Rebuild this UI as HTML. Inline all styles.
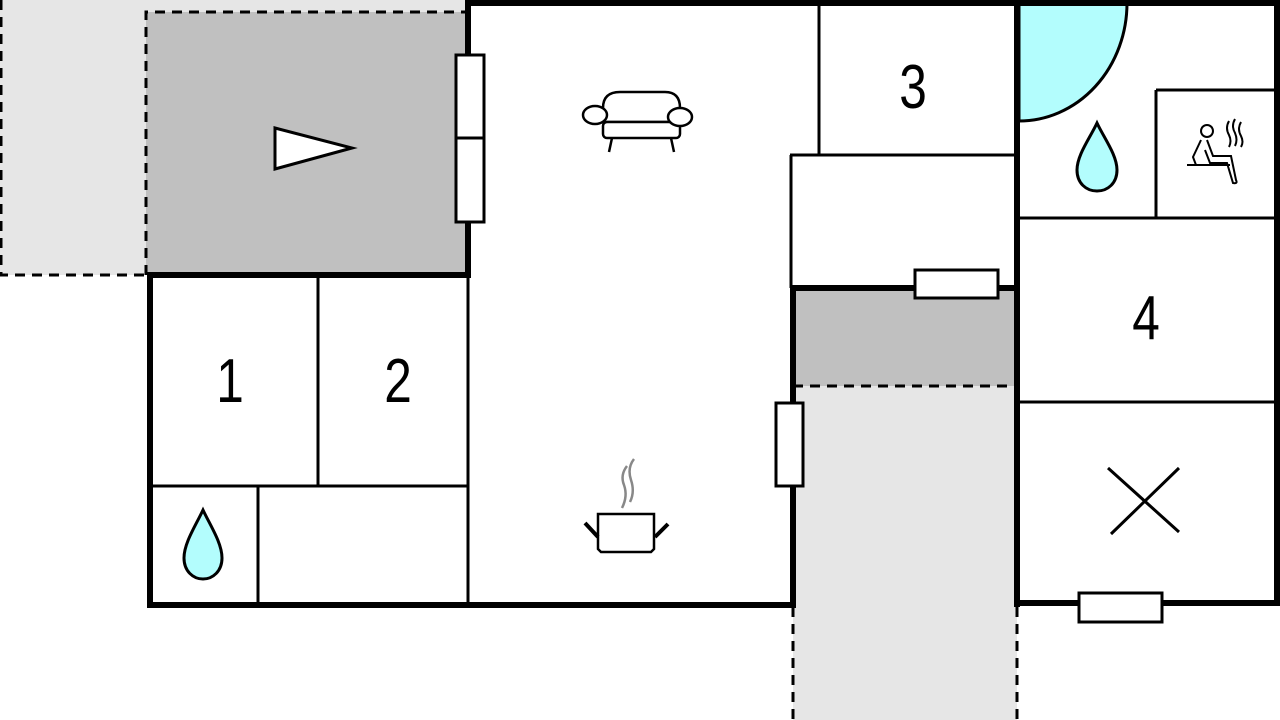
<!DOCTYPE html>
<html><head><style>html,body{margin:0;padding:0;background:#fff;width:1280px;height:720px;overflow:hidden}</style></head>
<body>
<svg width="1280" height="720" viewBox="0 0 1280 720" xmlns="http://www.w3.org/2000/svg" font-family="Liberation Sans, sans-serif">
<rect x="0" y="0" width="468" height="275" fill="#e6e6e6"/>
<rect x="146" y="12" width="322" height="263" fill="#c0c0c0"/>
<rect x="793" y="288" width="224" height="98" fill="#c0c0c0"/>
<rect x="793" y="386" width="224" height="334" fill="#e6e6e6"/>
<path d="M1019 3 L1127 3 A108 118 0 0 1 1019 121 Z" fill="#b3fdfd" stroke="#000" stroke-width="3"/>
<g stroke="#000" stroke-width="3" fill="none" stroke-dasharray="10,7">
<path d="M1 0 V275 H146"/>
<path d="M146 275 V12 H468"/>
<path d="M793 386 H1017"/>
<path d="M793 607 V720 M1017 607 V720"/>
</g>
<g stroke="#000" stroke-width="3" fill="none">
<path d="M318 277 V486 M150 486 H468 M258 486 V605 M468 275 V605"/>
<path d="M819 0 V155 M790 155 H1017 M791 155 V288"/>
<path d="M1156 90 V218 M1156 90 H1277 M1017 218 H1277 M1017 402 H1277"/>
</g>
<g stroke="#000" stroke-width="6" fill="none">
<path d="M468 3 H1280"/>
<path d="M468 0 V278"/>
<path d="M147 275 H471"/>
<path d="M150 275 V608"/>
<path d="M147 605 H796"/>
<path d="M793 286 V607"/>
<path d="M790 288 H1020"/>
<path d="M1017 0 V607"/>
<path d="M1277 0 V606"/>
<path d="M1014 603 H1280"/>
</g>
<g fill="#fff" stroke="#000" stroke-width="3">
<rect x="456" y="55" width="28" height="167"/>
<path d="M456 138 H484"/>
<rect x="915" y="270" width="83" height="28"/>
<rect x="776" y="403" width="27" height="83"/>
<rect x="1079" y="593" width="83" height="29"/>
<polygon points="275,128 352,148 275,169"/>
</g>
<g font-size="62" text-anchor="middle" fill="#000">
<text transform="translate(230 402) scale(0.8 1)">1</text>
<text transform="translate(398 402) scale(0.8 1)">2</text>
<text transform="translate(913 108) scale(0.8 1)">3</text>
<text transform="translate(1146 339) scale(0.8 1)">4</text>
</g>
<g fill="#b3fdfd" stroke="#000" stroke-width="3">
<path d="M1097 123 C1090 138 1077 155 1077 170 C1077 183 1086 191 1097 191 C1108 191 1117 183 1117 170 C1117 155 1104 138 1097 123 Z"/>
<path d="M203 510 C196 525 184 543 184 558 C184 571 193 579 203 579 C213 579 222 571 222 558 C222 543 210 525 203 510 Z"/>
</g>
<g stroke="#000" stroke-width="3">
<path d="M1108 468 L1179 532 M1111 534 L1179 468"/>
</g>
<g stroke="#000" stroke-width="2.5" fill="#fff">
<path d="M603 108 Q603 92 620 92 H665 Q680 92 680 108 V122 H603 Z"/>
<rect x="603" y="122" width="77" height="16" rx="4"/>
<ellipse cx="595" cy="115" rx="12" ry="9"/>
<ellipse cx="680" cy="117" rx="12" ry="9"/>
<path d="M612 138 L609 152 M671 138 L674 152" fill="none"/>
</g>
<g stroke="#888" stroke-width="2.5" fill="none">
<path d="M627 466 Q620 475 624 485 Q628 496 622 508"/>
<path d="M634 459 Q627 468 631 480 Q635 492 630 502"/>
</g>
<g stroke="#000" stroke-width="2.5" fill="#fff">
<path d="M598 514 H654 V549 L651 552 H601 L598 549 Z"/>
<path d="M585 523 L598 537 M668 524 L655 537" stroke-width="4"/>
</g>
<g stroke="#000" stroke-width="2" fill="none">
<circle cx="1207" cy="131" r="6"/>
<path d="M1201 140 L1193 157 L1196 165 M1207 140 L1213 156 H1231 L1236 180 Q1238 184 1233 183 L1227 163 H1210 L1205 150"/>
<path d="M1187 165 H1230"/>
<path d="M1229 121 Q1225 128 1229 135 Q1232 141 1229 147 M1235 119 Q1231 126 1235 133 Q1238 140 1235 146 M1241 122 Q1237 129 1241 136 Q1244 142 1241 147"/>
</g>
</svg>
</body></html>
